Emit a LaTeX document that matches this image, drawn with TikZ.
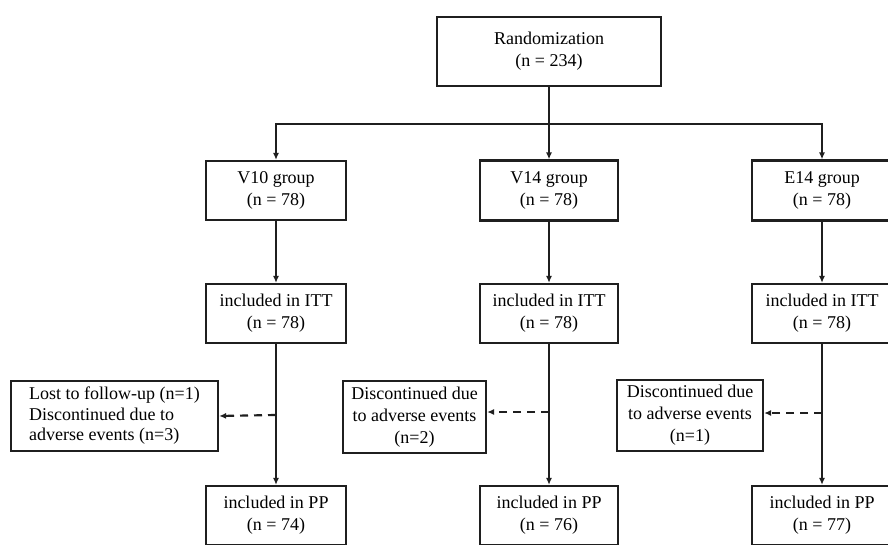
\documentclass[tikz,border=0pt]{standalone}
\usepackage{fontspec}
\setmainfont{Liberation Serif}
\usetikzlibrary{arrows.meta}
\begin{document}
\begin{tikzpicture}[x=1pt,y=-1pt,
  box/.style={draw=black!88,line width=2.2pt,align=center,inner sep=0pt,
    font=\fontsize{18}{22}\selectfont},
  lbox/.style={box,align=left,font=\fontsize{18}{20.5}\selectfont},
  conn/.style={draw=black!88,line width=2.2pt},
  arr/.style={conn,-{Latex[length=7pt,width=6pt]}},
  darr/.style={arr,dash pattern=on 8pt off 6pt}]
\useasboundingbox (0,0) rectangle (888,544);
\clip (0,0) rectangle (888,544);
\fill[white] (0,0) rectangle (888,544);
\node[box,minimum width=224pt,minimum height=69pt] (rand) at (549,51.5) {Randomization\\(n = 234)};
\node[box,minimum width=140pt,minimum height=59pt] (v10) at (276,190.5) {V10 group\\(n = 78)};
\node[box,minimum width=138pt,minimum height=60pt] (v14) at (549,190.5) {V14 group\\(n = 78)};
\node[box,minimum width=140pt,minimum height=60pt] (e14) at (822,190.5) {E14 group\\(n = 78)};
\node[box,minimum width=140pt,minimum height=59pt] (i10) at (276,313.5) {included in ITT\\(n = 78)};
\node[box,minimum width=138pt,minimum height=59pt] (i14) at (549,313.5) {included in ITT\\(n = 78)};
\node[box,minimum width=140pt,minimum height=59pt] (ie14) at (822,313.5) {included in ITT\\(n = 78)};
\node[box,minimum width=140pt,minimum height=59pt] (p10) at (276,515.5) {included in PP\\(n = 74)};
\node[box,minimum width=138pt,minimum height=59pt] (p14) at (549,515.5) {included in PP\\(n = 76)};
\node[box,minimum width=140pt,minimum height=59pt] (pe14) at (822,515.5) {included in PP\\(n = 77)};
\node[lbox,minimum width=207pt,minimum height=70pt] (d10) at (114.5,416) {Lost to follow-up (n=1)\\Discontinued due to\\adverse events (n=3)};
\node[box,minimum width=143pt,minimum height=72pt] (d14) at (414.5,417) {Discontinued due\\to adverse events\\(n=2)};
\node[box,minimum width=146pt,minimum height=71pt] (de14) at (690,415.5) {Discontinued due\\to adverse events\\(n=1)};
\coordinate (split) at (549,124);
\coordinate (b10) at (276,415);
\coordinate (b14) at (549,412);
\coordinate (be14) at (822,413);
\draw[conn] (rand) -- (split);
\draw[arr] (split) -| (v10.north);
\draw[arr] (split) -| (e14.north);
\draw[arr] (split) -- (v14);
\draw[arr] (v10) -- (i10);
\draw[arr] (v14) -- (i14);
\draw[arr] (e14) -- (ie14);
\draw[arr] (i10) -- (p10);
\draw[arr] (i14) -- (p14);
\draw[arr] (ie14) -- (pe14);
\draw[darr] (b10) -- (d10.east);
\draw[darr] (b14) -- (d14.east |- b14);
\draw[darr] (be14) -- (de14.east |- be14);
\end{tikzpicture}
\end{document}
